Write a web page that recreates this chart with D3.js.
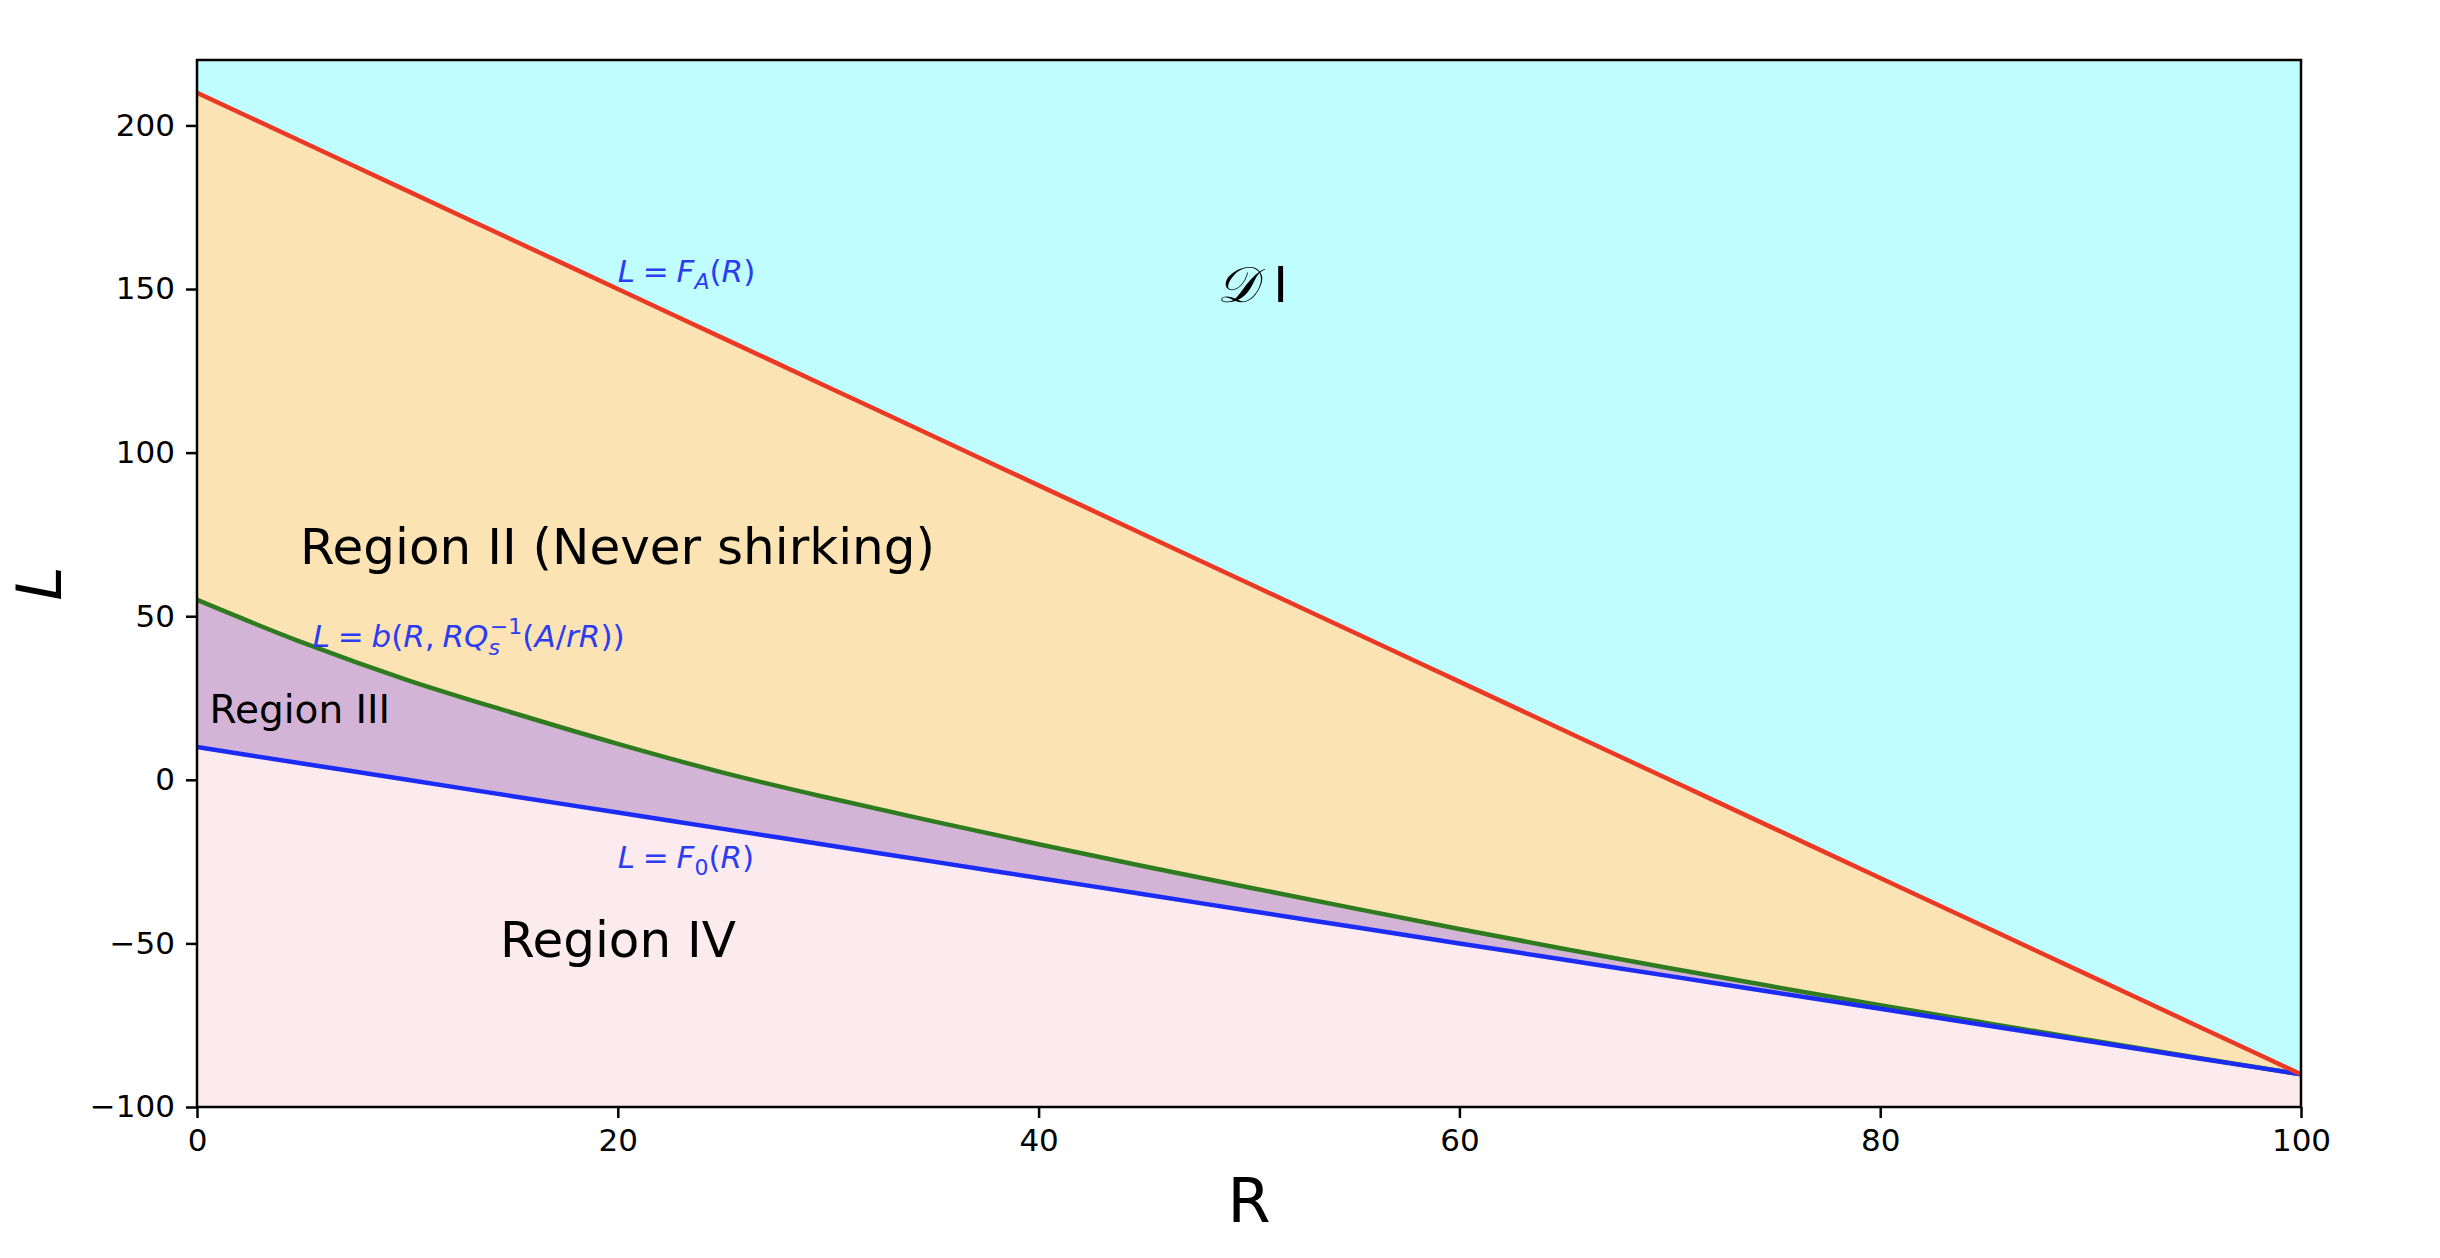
<!DOCTYPE html>
<html>
<head>
<meta charset="utf-8">
<script src="https://cdn.jsdelivr.net/npm/d3@7"></script>
<style>
  html, body { margin: 0; padding: 0; background: #ffffff; }
  svg { display: block; }
  text { font-family: "DejaVu Sans", sans-serif; }
</style>
</head>
<body>
<svg id="chart" width="2440" height="1258"></svg>
<script>
// ---- data ----
const R_values = [0, 5, 10, 15, 20, 25, 30, 35, 40, 45, 50, 55, 60, 65, 70, 75, 80, 85, 90, 95, 100];
const FA_values = [210, 195, 180, 165, 150, 135, 120, 105, 90, 75, 60, 45, 30, 15, 0, -15, -30, -45, -60, -75, -90];
const F0_values = [10, 5, 0, -5, -10, -15, -20, -25, -30, -35, -40, -45, -50, -55, -60, -65, -70, -75, -80, -85, -90];
const B_values = [55, 42, 30.5, 20.5, 11, 2.2, -5.5, -12.7, -19.7, -26.4, -32.9, -39.3, -45.6, -51.7, -57.6, -63.3, -68.9, -74.3, -79.6, -84.85, -90];
const xTicks = [0, 20, 40, 60, 80, 100];
const yTicks = [-100, -50, 0, 50, 100, 150, 200];
const xDomain = [0, 100];
const yDomain = [-100, 220];

const rows = R_values.map((r, i) => ({ r, fa: FA_values[i], f0: F0_values[i], b: B_values[i] }));

const margin = { left: 197, right: 2440 - 2301, top: 60, bottom: 1258 - 1107 };
const svg = d3.select("#chart");
const W = 2440, H = 1258;
const x = d3.scaleLinear().domain(xDomain).range([margin.left, W - margin.right]);
const y = d3.scaleLinear().domain(yDomain).range([H - margin.bottom, margin.top]);

const g = svg.append("g");

// regions
const area = (lo, hi) => d3.area().x(d => x(d.r)).y0(d => y(lo(d))).y1(d => y(hi(d))).curve(d3.curveMonotoneX);
g.append("path").datum(rows).attr("fill", "#bffdfe").attr("d", area(d => d.fa, d => yDomain[1]));
g.append("path").datum(rows).attr("fill", "#fce3b4").attr("d", area(d => d.b, d => d.fa));
g.append("path").datum(rows).attr("fill", "#d4b4d6").attr("d", area(d => d.f0, d => d.b));
g.append("path").datum(rows).attr("fill", "#fcebee").attr("d", area(d => yDomain[0], d => d.f0));

// lines
const line = key => d3.line().x(d => x(d.r)).y(d => y(d[key])).curve(d3.curveMonotoneX);
g.append("path").datum(rows).attr("fill", "none").attr("stroke", "#2f7b1f").attr("stroke-width", 4.5).attr("d", line("b"));
g.append("path").datum(rows).attr("fill", "none").attr("stroke", "#1a2cf5").attr("stroke-width", 4.5).attr("d", line("f0"));
g.append("path").datum(rows).attr("fill", "none").attr("stroke", "#ea3a26").attr("stroke-width", 4.5).attr("d", line("fa"));

// axes
const xAxis = svg.append("g").attr("transform", `translate(0,${H - margin.bottom})`)
  .call(d3.axisBottom(x).tickValues(xTicks).tickSize(11).tickPadding(11).tickFormat(d3.format("d")));
const yAxis = svg.append("g").attr("transform", `translate(${margin.left},0)`)
  .call(d3.axisLeft(y).tickValues(yTicks).tickSize(11).tickPadding(11).tickFormat(d => d < 0 ? "\u2212" + Math.abs(d) : String(d)));
[xAxis, yAxis].forEach(a => {
  a.select(".domain").remove();
  a.selectAll(".tick line").attr("stroke", "#000").attr("stroke-width", 2.5);
  a.selectAll(".tick text").attr("fill", "#000").style("font-size", "31px").style("font-family", "DejaVu Sans");
});

// frame
svg.append("rect").attr("x", x(xDomain[0])).attr("y", y(yDomain[1]))
  .attr("width", x(xDomain[1]) - x(xDomain[0])).attr("height", y(yDomain[0]) - y(yDomain[1]))
  .attr("fill", "none").attr("stroke", "#000").attr("stroke-width", 2.5);

// axis labels
svg.append("text").attr("x", (x(0) + x(100)) / 2).attr("y", 1222).attr("text-anchor", "middle")
  .style("font-size", "62px").text("R");
svg.append("text").attr("transform", `translate(61,${(y(yDomain[0]) + y(yDomain[1])) / 2}) rotate(-90)`)
  .attr("text-anchor", "middle").style("font-size", "62px").style("font-style", "italic").text("L");

// region labels
const lab = (r, l, txt, size) => svg.append("text").attr("x", x(r)).attr("y", y(l)).style("font-size", size + "px").attr("fill", "#000").text(txt);
lab(4.9, 66, "Region II (Never shirking)", 50);
lab(0.6, 17.4, "Region III", 39);
lab(14.4, -54.3, "Region IV", 50);

// D I label
const dl = svg.append("text").attr("x", x(48.5)).attr("y", y(146)).style("font-size", "50px").attr("fill", "#000");
dl.append("tspan").style("font-family", "DejaVu Serif, serif").style("font-style", "italic").text("\uD835\uDC9F");
dl.append("tspan").text(" I");

// math labels (blue)
const blue = "#2b3cf2";
const sp = "\u2005";
function mathLabel(r, l, parts) {
  const t = svg.append("text").attr("x", x(r)).attr("y", y(l)).style("font-size", "31px").attr("fill", blue);
  parts.forEach(p => {
    const s = t.append("tspan").text(p.t);
    if (p.i) s.style("font-style", "italic");
    if (p.size) s.style("font-size", p.size + "px");
    if (p.dy) s.attr("dy", p.dy);
    if (p.dx) s.attr("dx", p.dx);
  });
}
mathLabel(20, 152, [
  { t: "L", i: 1 }, { t: sp + "=" + sp }, { t: "F", i: 1 }, { t: "A", i: 1, size: 22, dy: 7 }, { t: "(", dy: -7 }, { t: "R", i: 1 }, { t: ")" }
]);
mathLabel(20, -27, [
  { t: "L", i: 1 }, { t: sp + "=" + sp }, { t: "F", i: 1 }, { t: "0", size: 22, dy: 7 }, { t: "(", dy: -7 }, { t: "R", i: 1 }, { t: ")" }
]);
mathLabel(5.5, 40.7, [
  { t: "L", i: 1 }, { t: sp + "=" + sp }, { t: "b", i: 1 }, { t: "(" }, { t: "R", i: 1 }, { t: "," + sp }, { t: "RQ", i: 1 },
  { t: "s", i: 1, size: 22, dy: 8 }, { t: "\u22121", size: 22, dy: -21, dx: -10 }, { t: "(", dy: 13 }, { t: "A", i: 1 }, { t: "/" }, { t: "rR", i: 1 }, { t: "))" }
]);
</script>
</body>
</html>
